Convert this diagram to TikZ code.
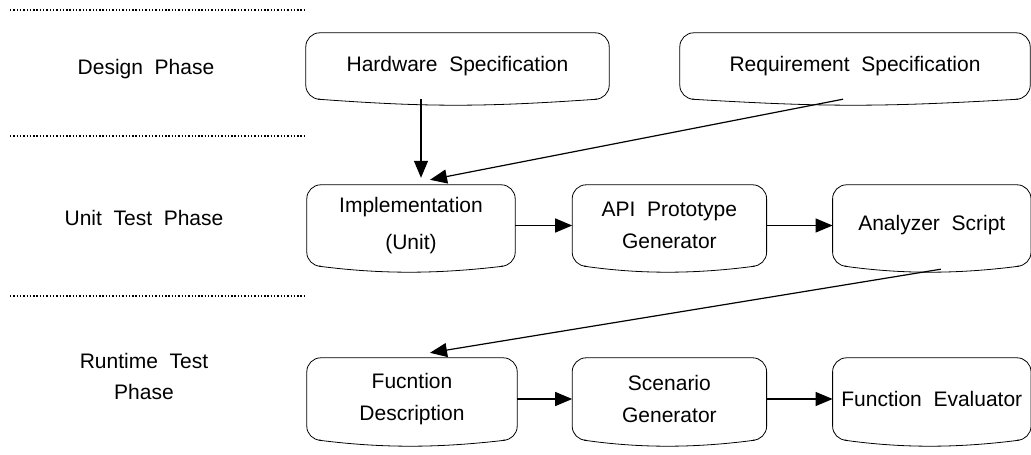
\documentclass[tikz,border=0pt]{standalone}
\usepackage{fontspec}
\setmainfont[WordSpace=2]{Liberation Sans}
\usetikzlibrary{positioning,calc,arrows.meta}

% outline of a box: rounded top, slightly waved bottom
\newcommand{\docoutline}[1]{%
  \draw[line width=0.8pt, rounded corners=14pt]
    ($(#1.south west)+(12pt,0pt)$) -- (#1.south west) -- (#1.north west)
    -- (#1.north east) -- (#1.south east) -- ($(#1.south east)+(-12pt,0pt)$);
  \draw[line width=0.8pt]
    ($(#1.south east)+(-12pt,0pt)$) .. controls ($(#1.south)+(25pt,-8pt)$)
    and ($(#1.south)+(-30pt,-8pt)$) .. ($(#1.south west)+(12pt,0pt)$);
}

\begin{document}
\begin{tikzpicture}[
    x=1pt, y=-1pt,
    docbox/.style={inner sep=0pt, align=center, font=\fontsize{21}{32}\selectfont}, % boxes of the diagram
    phase/.style={align=center, font=\fontsize{21}{31}\selectfont},
    arr/.style={line width=1.2pt, -{Triangle[length=17pt,width=14pt]}},
    sep/.style={line width=1.4pt, dash pattern=on 1.4pt off 1.9pt}
  ]
  \useasboundingbox (0,0) rectangle (1031,455);

  % phase separators and names
  \draw[sep] (10,10) -- (305,10);
  \draw[sep] (10,136) -- (305,136);
  \draw[sep] (10,296) -- (305,296);
  \node[phase] (design) at (146,69) {Design Phase};
  \node[phase] (unit) at (144,218) {Unit Test Phase};
  \node[phase] (runtime) at (144,376) {Runtime Test\\Phase};

  % Design phase
  \node[docbox, minimum width=303pt, minimum height=66pt] (hw) at (457.5,66) {Hardware Specification};
  \node[docbox, minimum width=350pt, minimum height=66pt] (req) at (855,66) {Requirement Specification};

  % Unit test phase
  \node[docbox, minimum width=208pt, minimum height=81pt] (impl) at (411,225.5) {Implementation\\[5pt](Unit)};
  \node[docbox, minimum width=194pt, minimum height=81pt, right=57pt of impl] (api) {API Prototype\\Generator};
  \node[docbox, minimum width=198pt, minimum height=81pt, right=66pt of api] (ana) {Analyzer Script};

  % Runtime test phase
  \node[docbox, minimum width=210pt, minimum height=82pt] (fdesc) at (412,399) {Fucntion\\Description};
  \node[docbox, minimum width=194pt, minimum height=82pt, right=55pt of fdesc] (scen) {Scenario\\Generator};
  \node[docbox, minimum width=198pt, minimum height=82pt, right=66pt of scen] (feval) {Function Evaluator};

  \foreach \n in {hw,req,impl,api,ana,fdesc,scen,feval}
    {\docoutline{\n}}

  % connectors
  \draw[arr] ([xshift=10pt]impl.north |- hw.south) -- ([xshift=10pt, yshift=7pt]impl.north);
  \draw[arr] ([xshift=-12pt]req.south) -- ([xshift=19pt, yshift=5pt]impl.north);
  \draw[arr] (impl.east) -- (api.west);
  \draw[arr] (api.east) -- (ana.west);
  \draw[arr] ([xshift=9pt, yshift=-3pt]ana.south) -- ([xshift=18pt, yshift=5pt]fdesc.north);
  \draw[arr] (fdesc.east) -- (scen.west);
  \draw[arr] (scen.east) -- (feval.west);
\end{tikzpicture}
\end{document}
